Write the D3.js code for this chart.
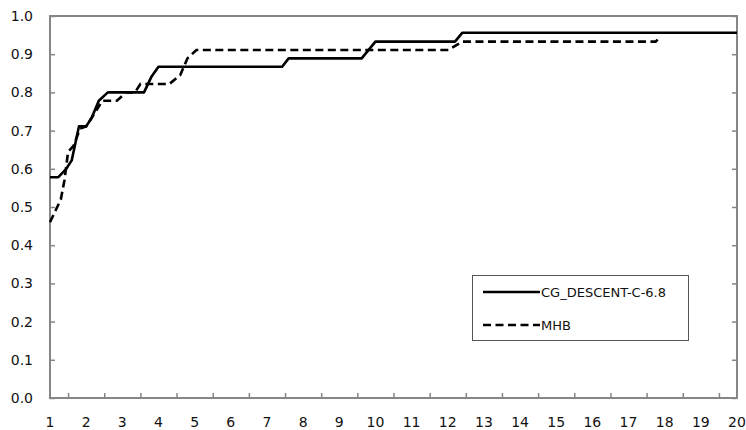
<!DOCTYPE html>
<html><head><meta charset="utf-8">
<script src="https://cdn.jsdelivr.net/npm/d3@7"></script>
<style>body{margin:0;background:#fff}svg{display:block}</style>
</head><body><div id="c"></div>
<script>
// Series: CG_DESCENT-C-6.8 (solid)
const cgX = [1, 1.23, 1.45, 1.6, 1.8, 2.0, 2.15, 2.35, 2.6, 3.6, 3.8, 4.0, 7.42, 7.6, 9.62, 10.0, 12.2, 12.4, 20];
const cgY = [0.578, 0.578, 0.6, 0.622, 0.711, 0.711, 0.733, 0.778, 0.8, 0.8, 0.84, 0.867, 0.867, 0.889, 0.889, 0.933, 0.933, 0.956, 0.956];
// Series: MHB (dashed)
const mhbX = [1, 1.3, 1.4, 1.5, 1.65, 1.83, 2.0, 2.15, 2.3, 2.45, 2.85, 3.1, 3.35, 3.5, 4.3, 4.6, 4.8, 5.05, 12.02, 12.4, 17.75, 17.88];
const mhbY = [0.46, 0.52, 0.57, 0.644, 0.66, 0.705, 0.711, 0.733, 0.756, 0.778, 0.778, 0.8, 0.8, 0.822, 0.822, 0.845, 0.889, 0.911, 0.911, 0.933, 0.933, 0.945];
const seriesNames = ["CG_DESCENT-C-6.8", "MHB"];
const xTickLabels = d3.range(1, 21);
const yTickValues = d3.range(0, 11).map(i => i / 10);

const W = 746, H = 430;
const m = {l: 50, t: 16, r: 737, b: 398};
const svg = d3.select("#c").append("svg").attr("width", W).attr("height", H);
const x = d3.scaleLinear().domain([1, 20]).range([m.l, m.r]);
const y = d3.scaleLinear().domain([0, 1]).range([m.b, m.t]);
const axisCol = "#868686";
const font = "DejaVu Sans, Verdana, sans-serif";

// plot border
svg.append("rect").attr("x", m.l).attr("y", m.t).attr("width", m.r - m.l).attr("height", m.b - m.t)
  .attr("fill", "none").attr("stroke", axisCol).attr("stroke-width", 2);

// left axis: inward ticks
const yAxis = d3.axisRight(y).tickValues(yTickValues).tickSize(5).tickFormat("");
const gy = svg.append("g").attr("transform", `translate(${m.l},0)`).call(yAxis);
gy.select(".domain").remove();
gy.selectAll("line").attr("stroke", axisCol).attr("stroke-width", 1.5);
// right axis: inward ticks
const yAxisR = d3.axisLeft(y).tickValues(yTickValues).tickSize(5).tickFormat("");
const gyr = svg.append("g").attr("transform", `translate(${m.r},0)`).call(yAxisR);
gyr.select(".domain").remove();
gyr.selectAll("line").attr("stroke", axisCol).attr("stroke-width", 1.5);
// y labels
svg.append("g").selectAll("text").data(yTickValues).join("text")
  .attr("x", m.l - 17).attr("y", d => y(d) + 5).attr("text-anchor", "end")
  .attr("font-family", font).attr("font-size", 14).attr("fill", "#111")
  .text(d => d.toFixed(1));

// bottom axis: ticks between categories, pointing up
const halfTicks = d3.range(1.5, 20, 1);
const xAxis = d3.axisTop(x).tickValues(halfTicks).tickSize(5).tickFormat("");
const gx = svg.append("g").attr("transform", `translate(0,${m.b})`).call(xAxis);
gx.select(".domain").remove();
gx.selectAll("line").attr("stroke", axisCol).attr("stroke-width", 1.5);
svg.append("g").selectAll("text").data(xTickLabels).join("text")
  .attr("x", d => x(d)).attr("y", 427).attr("text-anchor", "middle")
  .attr("font-family", font).attr("font-size", 14).attr("fill", "#111")
  .text(d => d);

const line = d3.line().x(d => x(d[0])).y(d => y(d[1]));
svg.append("path").datum(cgX.map((v, i) => [v, cgY[i]])).attr("d", line)
  .attr("fill", "none").attr("stroke", "#000").attr("stroke-width", 2.6).attr("stroke-linejoin", "round");
svg.append("path").datum(mhbX.map((v, i) => [v, mhbY[i]])).attr("d", line)
  .attr("fill", "none").attr("stroke", "#000").attr("stroke-width", 2.6).attr("stroke-dasharray", "8,4.5");

// legend
const lg = svg.append("g");
lg.append("rect").attr("x", 472.5).attr("y", 275.5).attr("width", 216).attr("height", 65)
  .attr("fill", "#fff").attr("stroke", "#555").attr("stroke-width", 1);
const ly = [292, 325];
seriesNames.forEach((n, i) => {
  lg.append("line").attr("x1", 483).attr("x2", 540).attr("y1", ly[i]).attr("y2", ly[i])
    .attr("stroke", "#000").attr("stroke-width", 2.6).attr("stroke-dasharray", i ? "8,4.5" : null);
  lg.append("text").attr("x", 541).attr("y", ly[i] + 5).attr("font-family", font).attr("font-size", 13)
    .attr("fill", "#111").text(n);
});
</script></body></html>
